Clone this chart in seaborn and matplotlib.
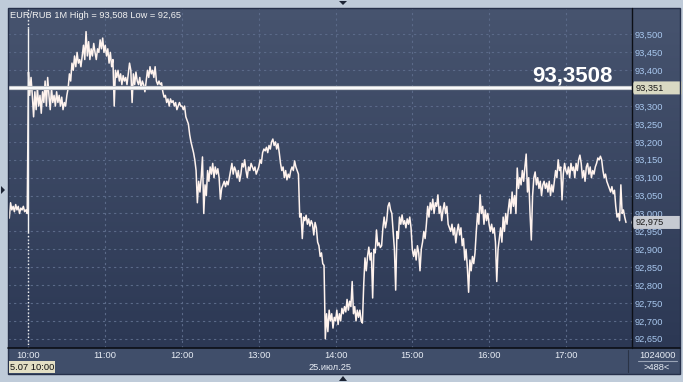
import numpy as np
import pandas as pd
import matplotlib
matplotlib.use("Agg")
import matplotlib.pyplot as plt
import seaborn as sns
from matplotlib.colors import LinearSegmentedColormap
from matplotlib.transforms import blended_transform_factory
from matplotlib.patches import Rectangle, Polygon

# ---------------- data (EUR/RUB, 1-minute closes) ----------------
pre_open = [92.987, 93.03, 93.01, 93.02, 93.005, 93.025, 93.01, 93.02, 93.0, 93.015,
            93.01, 93.02, 93.005, 93.01, 93.0]
h10 = [93.395, 93.33, 93.38, 93.33, 93.27, 93.34, 93.29, 93.35, 93.30, 93.33,
       93.28, 93.34, 93.31, 93.37, 93.30, 93.38, 93.33, 93.29, 93.35, 93.31,
       93.33, 93.30, 93.34, 93.31, 93.33, 93.30, 93.325, 93.29, 93.31, 93.30,
       93.33, 93.35, 93.39, 93.37, 93.42, 93.40, 93.44, 93.41, 93.45, 93.42,
       93.43, 93.41, 93.44, 93.47, 93.43, 93.508, 93.44, 93.48, 93.43, 93.46,
       93.44, 93.475, 93.45, 93.43, 93.46, 93.45, 93.485, 93.46, 93.49, 93.45]
h11 = [93.47, 93.44, 93.46, 93.42, 93.45, 93.41, 93.43, 93.30, 93.40, 93.38,
       93.40, 93.37, 93.39, 93.36, 93.385, 93.37, 93.38, 93.36, 93.39, 93.42,
       93.40, 93.31, 93.39, 93.36, 93.395, 93.37, 93.36, 93.38, 93.35, 93.37,
       93.36, 93.34, 93.37, 93.40, 93.38, 93.41, 93.39, 93.40, 93.38, 93.41,
       93.37, 93.36, 93.37, 93.36, 93.365, 93.34, 93.325, 93.33, 93.31, 93.32,
       93.30, 93.32, 93.31, 93.315, 93.30, 93.31, 93.29, 93.30, 93.31, 93.30]
h12 = [93.30, 93.29, 93.30, 93.27, 93.26, 93.25, 93.22, 93.20, 93.185, 93.17,
       93.15, 93.12, 93.03, 93.09, 93.06, 93.10, 93.158, 93.00, 93.08, 93.05,
       93.12, 93.09, 93.13, 93.11, 93.14, 93.10, 93.13, 93.11, 93.125, 93.10,
       93.04, 93.07, 93.08, 93.09, 93.075, 93.09, 93.08, 93.10, 93.12, 93.14,
       93.11, 93.13, 93.12, 93.10, 93.12, 93.09, 93.11, 93.14, 93.13, 93.15,
       93.12, 93.10, 93.13, 93.12, 93.14, 93.13, 93.12, 93.13, 93.11, 93.12]
h13 = [93.13, 93.15, 93.14, 93.17, 93.18, 93.175, 93.185, 93.17, 93.19, 93.18,
       93.20, 93.208, 93.19, 93.20, 93.18, 93.195, 93.17, 93.14, 93.12, 93.13,
       93.10, 93.12, 93.094, 93.11, 93.10, 93.12, 93.13, 93.12, 93.147, 93.13,
       93.12, 93.11, 92.99, 93.00, 92.93, 92.99, 92.98, 92.995, 92.97, 92.985,
       92.965, 92.98, 92.97, 92.94, 92.975, 92.96, 92.92, 92.91, 92.88, 92.89,
       92.86, 92.855, 92.65, 92.72, 92.67, 92.73, 92.70, 92.72, 92.68, 92.71]
h14 = [92.70, 92.73, 92.69, 92.72, 92.70, 92.735, 92.72, 92.74, 92.725, 92.76,
       92.73, 92.755, 92.74, 92.81, 92.72, 92.74, 92.70, 92.73, 92.71, 92.73,
       92.70, 92.694, 92.80, 92.876, 92.84, 92.88, 92.906, 92.87, 92.89, 92.764,
       92.90, 92.89, 92.954, 92.91, 92.918, 92.905, 92.91, 92.96, 92.99, 92.96,
       92.98, 93.02, 93.03, 93.01, 93.00, 92.95, 92.90, 92.786, 92.95, 92.93,
       92.99, 92.97, 92.996, 92.97, 92.98, 92.96, 92.985, 92.97, 92.99, 92.96]
h15 = [92.90, 92.88, 92.90, 92.87, 92.91, 92.89, 92.84, 92.90, 92.92, 92.95,
       92.93, 92.97, 93.02, 92.99, 93.03, 93.01, 93.04, 93.00, 93.03, 93.02,
       93.052, 93.00, 93.02, 92.98, 93.01, 93.03, 93.00, 93.02, 92.97, 92.96,
       92.95, 92.97, 92.94, 92.96, 92.918, 92.95, 92.97, 92.94, 92.96, 92.91,
       92.93, 92.87, 92.90, 92.85, 92.78, 92.87, 92.84, 92.88, 92.86, 92.89,
       92.95, 93.00, 92.97, 93.052, 93.00, 93.02, 92.97, 93.01, 92.98, 93.00]
h16 = [92.97, 92.95, 92.97, 92.945, 92.96, 92.92, 92.81, 92.90, 92.93, 92.96,
       92.92, 92.99, 92.95, 93.00, 92.97, 93.01, 93.04, 93.00, 93.06, 93.02,
       93.05, 93.00, 93.127, 93.07, 93.10, 93.08, 93.12, 93.09, 93.13, 93.166,
       93.06, 93.10, 93.00, 92.926, 93.05, 93.10, 93.116, 93.08, 93.10, 93.07,
       93.09, 93.05, 93.08, 93.09, 93.07, 93.085, 93.06, 93.09, 93.05, 93.08,
       93.06, 93.09, 93.12, 93.10, 93.15, 93.12, 93.13, 93.038, 93.11, 93.14]
h17 = [93.12, 93.11, 93.13, 93.10, 93.14, 93.12, 93.13, 93.10, 93.14, 93.12,
       93.15, 93.163, 93.14, 93.10, 93.12, 93.09, 93.13, 93.14, 93.11, 93.13,
       93.10, 93.12, 93.11, 93.13, 93.14, 93.155, 93.15, 93.16, 93.15, 93.12,
       93.10, 93.11, 93.09, 93.08, 93.07, 93.06, 93.075, 93.055, 93.065, 93.02,
       92.99, 93.00, 92.98, 93.08, 93.00, 93.01, 92.99, 92.975]

hour_labels = ["10:00", "11:00", "12:00", "13:00", "14:00", "15:00", "16:00", "17:00"]
price_ticks = [92.65, 92.70, 92.75, 92.80, 92.85, 92.90, 92.95, 93.00, 93.05,
               93.10, 93.15, 93.20, 93.25, 93.30, 93.35, 93.40, 93.45, 93.50]
last_price = 92.975
level_price = 93.3508
level_text = "93,3508"
level_box_text = "93,351"
last_box_text = "92,975"
title_text = "EUR/RUB 1M High = 93,508 Low = 92,65"
date_text = "25.июл.25"
cursor_text = "5.07 10:00"
volume_text = "1024000"
count_text = ">488<"

prices = pre_open + h10 + h11 + h12 + h13 + h14 + h15 + h16 + h17
minutes = np.arange(len(prices)) - len(pre_open)   # minutes from 10:00
df = pd.DataFrame({"minute": minutes, "price": prices})

# ---------------- style ----------------
sns.set_style("dark")
plt.rcParams["font.family"] = ["Liberation Sans", "DejaVu Sans"]

W, H = 683, 382
fig = plt.figure(figsize=(W / 100, H / 100), dpi=100)
fig.patch.set_facecolor("#bfcbd9")

def rect(x0, y0, x1, y1):
    return [x0 / W, 1 - y1 / H, (x1 - x0) / W, (y1 - y0) / H]

# gradient background for plot + price scale
bg = fig.add_axes(rect(8, 8, 680, 348))
cmap = LinearSegmentedColormap.from_list("bgc", ["#47546f", "#2c3854"])
bg.imshow(np.linspace(0, 1, 256).reshape(-1, 1), aspect="auto", cmap=cmap,
          extent=[0, 1, 0, 1], origin="upper")
bg.axis("off")

# bottom time panel
bot = fig.add_axes(rect(8, 348, 680, 374))
bot.set_facecolor("#404e6a")
bot.set_xticks([]); bot.set_yticks([])
for s in bot.spines.values():
    s.set_visible(False)

# main plot
ax = fig.add_axes(rect(8, 8, 632, 348))
ax.patch.set_alpha(0)
sns.lineplot(data=df, x="minute", y="price", ax=ax, color="#fff3ee",
             lw=1.1, estimator=None, zorder=3)

ax.set_xlim(-16.0, 471.7)
ax.set_ylim(92.6243, 93.574)
ax.set_xlabel(""); ax.set_ylabel("")

# labels hidden behind the price boxes are left blank
hidden = {round(level_price, 2)}
ax.set_xticks(np.arange(len(hour_labels)) * 60)
ax.set_xticklabels(hour_labels)
ax.set_yticks(price_ticks)
ax.set_yticklabels(["" if round(v, 2) in hidden else f"{v:.3f}".replace(".", ",")
                    for v in price_ticks])
ax.yaxis.tick_right()
ax.tick_params(axis="x", length=0, pad=2.2, labelsize=6.7, labelcolor="#e8edf5")
ax.tick_params(axis="y", length=0, pad=1.6, labelsize=6.7, labelcolor="#a9c8ef")
ax.grid(True, color="#5b6a89", lw=0.8, linestyle=(0, (2, 3)))
for s in ax.spines.values():
    s.set_visible(False)

# session separator at 10:00
ax.vlines(0, 92.9455, 93.518, color="#f4f4f4", lw=1.0, zorder=4)
ax.vlines(0, 92.6243, 92.9455, color="#f4f4f4", lw=1.0, linestyle=(0, (1, 1.5)), zorder=4)
ax.vlines(0, 93.518, 93.574, color="#f4f4f4", lw=1.0, linestyle=(0, (1, 1.5)), zorder=4)

# level line
ax.axhline(level_price, color="#c9cbd0", lw=3.0, zorder=4)
ax.axhline(level_price, color="#ffffff", lw=1.3, zorder=5)
tr = blended_transform_factory(ax.transAxes, ax.transData)
ax.annotate(level_text, xy=(0.9695, level_price), xycoords=tr, xytext=(0, 4.6),
            textcoords="offset points", ha="right", va="baseline",
            fontsize=16, fontweight="bold", color="#ffffff", zorder=6)

# price boxes on right scale
def price_box(value, text, face):
    h = 6.5 / 358
    x0 = 1 + 2 / 624
    ax.add_patch(Polygon([(x0 - 3 / 624, value), (x0, value + h), (x0 + 48 / 624, value + h),
                          (x0 + 48 / 624, value - h), (x0, value - h)],
                         closed=True, transform=tr, facecolor=face, edgecolor="none",
                         clip_on=False, zorder=7))
    ax.text(x0 + 2 / 624, value, text, transform=tr, ha="left", va="center",
            fontsize=6.7, color="#1a1a1a", clip_on=False, zorder=8)

price_box(level_price, level_box_text, "#d9d9c3")
price_box(last_price, last_box_text, "#c6cad2")

# ---------------- overlay decorations (pixel coords) ----------------
ov = fig.add_axes([0, 0, 1, 1], zorder=10)
ov.set_xlim(0, W); ov.set_ylim(H, 0)
ov.axis("off")
ov.patch.set_alpha(0)
ov.plot([632, 632], [8, 348], color="#0c0f16", lw=1.0)
ov.plot([8, 680], [347.5, 347.5], color="#0c0f16", lw=1.2)
ov.add_patch(Rectangle((8, 8), 672, 366, facecolor="none", edgecolor="#26304a", lw=1.0))
ov.plot([628, 628], [350, 372], color="#2a3346", lw=0.8)
ov.text(10, 15.5, title_text, ha="left", va="center", fontsize=6.7, color="#f2f2f2")
ov.add_patch(Rectangle((8.5, 361), 46.5, 12, facecolor="#e3dfc4", edgecolor="none"))
ov.text(9.5, 367.3, cursor_text, ha="left", va="center", fontsize=6.7, color="#111111")
ov.text(330, 367.3, date_text, ha="center", va="center", fontsize=6.7, color="#e8edf5")
ov.text(657, 355, volume_text, ha="center", va="center", fontsize=6.7, color="#e8edf5")
ov.plot([638, 677], [361, 361], color="#9aa4b6", lw=0.8)
ov.text(657, 367.5, count_text, ha="center", va="center", fontsize=6.7, color="#e8edf5")
# edge markers
ov.add_patch(Polygon([(339, 1), (347, 1), (343, 5)], closed=True, facecolor="#1c2434", edgecolor="none"))
ov.add_patch(Polygon([(339, 381), (347, 381), (343, 376)], closed=True, facecolor="#1c2434", edgecolor="none"))
ov.add_patch(Polygon([(1, 186), (1, 194), (5, 190)], closed=True, facecolor="#1c2434", edgecolor="none"))

fig.savefig("out.png", dpi=100, facecolor=fig.get_facecolor())
